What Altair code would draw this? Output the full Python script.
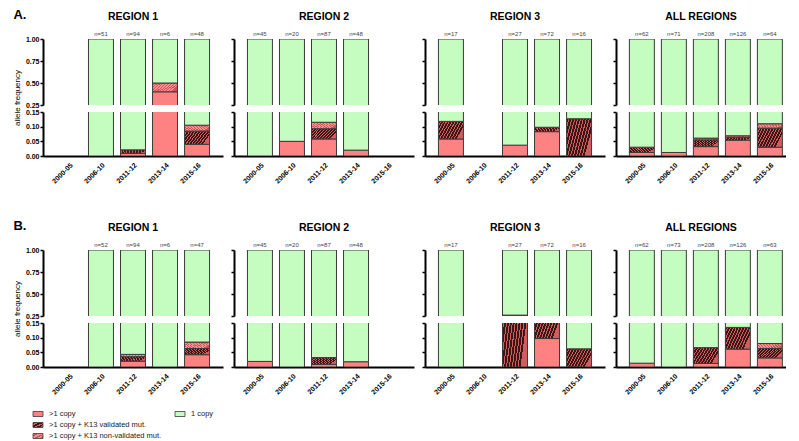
import altair as alt
import pandas as pd

YEARS = ["2000-05", "2006-10", "2011-12", "2013-14", "2015-16"]
REGIONS = ["REGION 1", "REGION 2", "REGION 3", "ALL REGIONS"]
SERIES = ["copy", "valid", "nonval", "one"]
LEGEND_LABELS = [">1 copy", ">1 copy + K13 validated mut.",
                 ">1 copy + K13 non-validated mut.", "1 copy"]

# ---- Panel A : sample sizes and allele frequencies (one list per region) ----
A_N = [
    [None, 51, 94, 6, 48],
    [45, 20, 87, 48, None],
    [17, None, 27, 72, 16],
    [62, 71, 208, 126, 64],
]
A_COPY = [
    [0, 0, 0.009, 0.40, 0.040],
    [0, 0.050, 0.058, 0.020, 0],
    [0.058, 0, 0.037, 0.083, 0],
    [0.012, 0.012, 0.032, 0.054, 0.030],
]
A_VALID = [
    [0, 0, 0.012, 0, 0.045],
    [0, 0, 0.035, 0, 0],
    [0.060, 0, 0, 0.015, 0.127],
    [0.018, 0, 0.023, 0.010, 0.065],
]
A_NONVAL = [
    [0, 0, 0, 0.10, 0.020],
    [0, 0, 0.022, 0, 0],
    [0, 0, 0, 0, 0],
    [0, 0, 0.006, 0.005, 0.015],
]

# ---- Panel B ----
B_N = [
    [None, 52, 94, 6, 47],
    [45, 20, 87, 48, None],
    [17, None, 27, 72, 16],
    [62, 73, 208, 126, 63],
]
B_COPY = [
    [0, 0, 0.020, 0, 0.042],
    [0.019, 0, 0.009, 0.018, 0],
    [0, 0, 0, 0.097, 0],
    [0.013, 0, 0.012, 0.061, 0.031],
]
B_VALID = [
    [0, 0, 0.015, 0, 0.021],
    [0, 0, 0.023, 0, 0],
    [0, 0, 0.26, 0.093, 0.062],
    [0, 0, 0.054, 0.074, 0.032],
]
B_NONVAL = [
    [0, 0, 0.008, 0, 0.022],
    [0, 0, 0, 0, 0],
    [0, 0, 0, 0, 0],
    [0, 0, 0, 0, 0.017],
]

FONT = "Liberation Sans"
RED = "#FF8282"
GREEN = "#C4FDBF"
STROKE = "#3a3a3a"


def stripes(c1, c2, n, frac, k):
    stops = []
    for i in range(n):
        a, b, c = i / n, (i + frac) / n, (i + 1) / n
        stops += [alt.GradientStop(color=c1, offset=a), alt.GradientStop(color=c1, offset=b),
                  alt.GradientStop(color=c2, offset=b), alt.GradientStop(color=c2, offset=c)]
    return alt.LinearGradient(gradient="linear", stops=stops, x1=0, y1=0, x2=1, y2=k)


FILLS = {
    "copy": RED,
    "valid": stripes("#3e1414", "#cf5e5e", 10, 0.65, 0.4),
    "nonval": stripes("#ff8e8e", "#c85656", 10, 0.6, 0.4),
    "one": GREEN,
}


def build(N, COPY, VALID, NONVAL):
    bars, labels = [], []
    for r, region in enumerate(REGIONS):
        for i, year in enumerate(YEARS):
            n = N[r][i]
            if n is None:
                continue
            labels.append({"region": region, "year": year, "label": f"n={n}"})
            segs = [COPY[r][i], VALID[r][i], NONVAL[r][i]]
            segs.append(1 - sum(segs))
            base = 0.0
            for s, v in zip(SERIES, segs):
                if v > 0:
                    bars.append({"region": region, "year": year, "series": s,
                                 "y0": base, "y1": base + v})
                base += v
    return pd.DataFrame(bars), pd.DataFrame(labels)


WIDTHS = [180, 180, 180, 170]
TOP_H, BOT_H, GAP = 66, 44, 7


def xscale(r):
    if r < 3:
        return alt.Scale(domain=YEARS, paddingInner=0.22, paddingOuter=0.42)
    return alt.Scale(domain=YEARS, paddingInner=0.22, paddingOuter=0.266, align=0.786)


def yaxis(vals, first, title):
    return alt.Axis(values=vals, format=".2f", labels=first, title=(title if first else None),
                    grid=False, tickSize=3, tickWidth=1.5, tickColor="black",
                    domainColor="black", domainWidth=2, labelFontSize=7,
                    labelFontWeight="bold", labelPadding=1, labelColor="black",
                    titleFontSize=8, titleFontWeight="normal", titleColor="black",
                    titlePadding=4, titleAlign="center",
                    titleY=(TOP_H + GAP + BOT_H) / 2)


XAXIS = alt.Axis(title=None, labelAngle=-45, labelFontWeight="bold", labelFontSize=7,
                 labelColor="black", ticks=False, domainColor="black", domainWidth=2,
                 labelPadding=5)


def half(bars, labels, r, top):
    region = REGIONS[r]
    first = r == 0
    if top:
        domain, height, vals = [0.25, 1.0], TOP_H, [0.25, 0.5, 0.75, 1.0]
        xenc = alt.X("year:N", scale=xscale(r), axis=None)
    else:
        domain, height, vals = [0.0, 0.15], BOT_H, [0.0, 0.05, 0.10, 0.15]
        xenc = alt.X("year:N", scale=xscale(r), axis=XAXIS)
    yax = yaxis(vals, first, "allele frequency" if top else None)
    ysc = alt.Scale(domain=domain, nice=False, zero=False)
    layers = []
    for s in SERIES:
        layers.append(
            alt.Chart(bars)
            .transform_filter((alt.datum.region == region) & (alt.datum.series == s))
            .mark_bar(fill=FILLS[s], stroke=STROKE, strokeWidth=1, clip=True)
            .encode(x=xenc, y=alt.Y("y0:Q", scale=ysc, axis=yax), y2="y1:Q")
        )
    if top:
        layers.append(
            alt.Chart(labels)
            .transform_filter(alt.datum.region == region)
            .mark_text(baseline="bottom", dy=-2, fontSize=6, color="#444")
            .encode(x=xenc, y=alt.YDatum(1.0, scale=ysc, axis=yax), text="label:N")
        )
        return alt.layer(*layers).properties(
            width=WIDTHS[r], height=height,
            title=alt.TitleParams(region, fontSize=10.5, fontWeight="bold", color="black",
                                  offset=9, anchor="middle", frame="group"))
    return alt.layer(*layers).properties(width=WIDTHS[r], height=height)


def row(letter, N, COPY, VALID, NONVAL):
    bars, labels = build(N, COPY, VALID, NONVAL)
    panels = []
    for r in range(len(REGIONS)):
        panels.append(
            alt.vconcat(half(bars, labels, r, True), half(bars, labels, r, False),
                        spacing=GAP, bounds="flush")
        )
    return alt.hconcat(*panels, spacing=7,
                       title=alt.TitleParams(letter, fontSize=13, fontWeight="bold",
                                             color="black", anchor="start", offset=-10))


rowA = row("A.", A_N, A_COPY, A_VALID, A_NONVAL)
rowB = row("B.", B_N, B_COPY, B_VALID, B_NONVAL)

# ---- custom legend ----
leg_df = pd.DataFrame({"series": SERIES, "label": LEGEND_LABELS})
SWATCH = "M-1,-0.5H1V0.5H-1Z"
lx = alt.X("col:Q", scale=alt.Scale(domain=[0, 1], range=[-5, 137]), axis=None)
ly = alt.Y("row:Q", scale=alt.Scale(domain=[0, 2], range=[6, 28]), axis=None)
leg_base = alt.Chart(leg_df).transform_calculate(
    col="datum.series == 'one' ? 1 : 0",
    row="datum.series == 'one' ? 0 : indexof(['copy','valid','nonval'], datum.series)",
)
leg_layers = []
for s in SERIES:
    leg_layers.append(
        leg_base.transform_filter(alt.datum.series == s)
        .mark_point(shape=SWATCH, size=100, filled=True, fill=FILLS[s], stroke=STROKE,
                    strokeWidth=0.8, opacity=1)
        .encode(x=lx, y=ly)
    )
leg_layers.append(
    leg_base.mark_text(align="left", dx=11, fontSize=7.5, color="#222")
    .encode(x=lx, y=ly, text="label:N")
)
legend = alt.layer(*leg_layers).properties(width=250, height=34)

chart = (
    alt.vconcat(alt.vconcat(rowA, rowB, spacing=34), legend, spacing=12)
    .properties(padding={"left": 5, "top": 0, "right": 0, "bottom": 0})
    .configure(font=FONT)
    .configure_view(stroke=None)
)

chart.save("out.html", embed_options={"renderer": "svg", "actions": False})
